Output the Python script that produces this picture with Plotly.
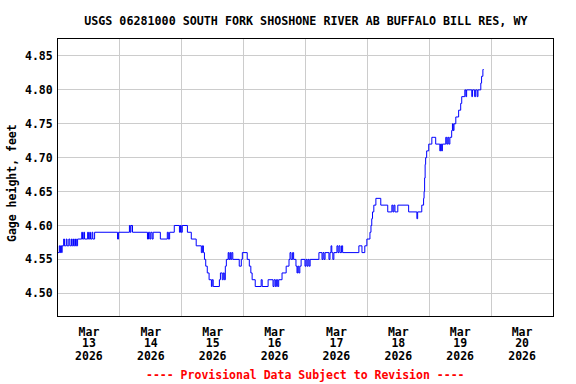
import plotly.graph_objects as go
from datetime import datetime, timedelta

# Change points: hours after 2026-03-13 00:00 and gage height (ft)
hours = [0.0, 0.5, 0.75, 1.0, 1.4, 1.6, 2.2, 2.5, 3.2, 3.5, 4.2, 4.6, 5.2, 5.5, 6.0, 6.3, 6.8, 7.1, 7.6,
         9.2, 9.5, 10.0, 10.3, 11.5, 11.8, 12.3, 12.6, 13.2, 13.5, 14.2, 23.1, 23.5, 27.7, 28.0, 28.3, 28.9,
         34.7, 35.1, 35.6, 36.0, 36.5, 36.9, 39.7, 42.4, 42.8, 43.3, 45.1, 47.1, 47.5, 47.8, 48.2, 50.2,
         51.7, 53.6, 55.6, 56.0, 56.4, 56.8, 57.3, 57.9, 58.6, 59.5, 59.8, 60.2, 62.6, 63.0, 63.7, 64.1,
         64.5, 64.9, 65.3, 66.0, 66.3, 66.7, 67.0, 67.4, 67.8, 70.3, 71.1, 71.5, 73.4, 74.2, 74.8, 75.3,
         76.5, 78.8, 79.2, 81.5, 83.4, 83.8, 84.3, 84.7, 85.2, 85.6, 86.9, 88.5, 89.6, 90.0, 90.4, 91.0,
         91.4, 92.3, 92.7, 93.0, 93.4, 93.8, 94.3, 95.8, 96.2, 96.6, 97.0, 97.4, 97.8, 101.2, 102.4, 102.8,
         103.2, 103.6, 105.1, 105.5, 105.9, 106.2, 106.6, 107.0, 108.2, 108.6, 109.0, 109.4, 110.0, 110.4,
         116.7, 117.9, 119.0, 119.8, 121.0, 121.4, 121.7, 122.0, 122.5, 123.3, 125.2, 127.9, 129.5, 129.9,
         130.3, 130.7, 131.8, 136.0, 139.2, 139.5, 141.1, 141.8, 142.0, 142.2, 142.4, 142.6, 143.0, 143.8,
         145.0, 145.8, 146.5, 148.1, 148.4, 148.8, 149.1, 150.4, 150.8, 151.2, 151.6, 152.0, 152.7, 153.0,
         153.3, 153.6, 154.3, 155.4, 156.2, 156.6, 157.8, 158.2, 158.5, 160.5, 160.8, 161.6, 162.0, 162.6,
         162.9, 164.0, 164.3, 164.8, 165.1]
gage_ft = [4.56, 4.57, 4.56, 4.57, 4.56, 4.57, 4.58, 4.57, 4.58, 4.57, 4.58, 4.57, 4.58, 4.57, 4.58, 4.57, 4.58, 4.57, 4.58,
           4.59, 4.58, 4.59, 4.58, 4.59, 4.58, 4.59, 4.58, 4.59, 4.58, 4.59, 4.58, 4.59, 4.60, 4.59, 4.60, 4.59,
           4.58, 4.59, 4.58, 4.59, 4.58, 4.59, 4.58, 4.59, 4.58, 4.59, 4.60, 4.59, 4.60, 4.59, 4.60, 4.59,
           4.58, 4.57, 4.56, 4.57, 4.56, 4.55, 4.54, 4.53, 4.52, 4.51, 4.52, 4.51, 4.52, 4.53, 4.52, 4.53,
           4.52, 4.54, 4.55, 4.56, 4.55, 4.56, 4.55, 4.56, 4.55, 4.54, 4.55, 4.56, 4.55, 4.54, 4.53, 4.52,
           4.51, 4.52, 4.51, 4.52, 4.51, 4.52, 4.51, 4.52, 4.51, 4.52, 4.53, 4.54, 4.55, 4.56, 4.55, 4.56,
           4.55, 4.54, 4.53, 4.54, 4.53, 4.54, 4.55, 4.54, 4.55, 4.54, 4.55, 4.54, 4.55, 4.56, 4.55, 4.56,
           4.55, 4.56, 4.55, 4.56, 4.57, 4.56, 4.55, 4.56, 4.57, 4.56, 4.57, 4.56, 4.57, 4.56,
           4.57, 4.56, 4.57, 4.58, 4.59, 4.60, 4.61, 4.62, 4.63, 4.64, 4.63, 4.62, 4.63, 4.62,
           4.63, 4.62, 4.63, 4.62, 4.61, 4.62, 4.63, 4.64, 4.65, 4.67, 4.69, 4.70, 4.71, 4.72,
           4.73, 4.73, 4.72, 4.71, 4.72, 4.71, 4.72, 4.73, 4.72, 4.73, 4.72, 4.73, 4.74, 4.75,
           4.74, 4.75, 4.76, 4.77, 4.78, 4.79, 4.80, 4.79, 4.80, 4.79, 4.80, 4.79, 4.80, 4.79,
           4.80, 4.81, 4.82, 4.83, 4.83]

month_labels = ["Mar"] * 8
day_numbers = ["13", "14", "15", "16", "17", "18", "19", "20"]
year_labels = ["2026"] * 8
y_ticks = [4.50, 4.55, 4.60, 4.65, 4.70, 4.75, 4.80, 4.85]

start = datetime(2026, 3, 13)
times = [start + timedelta(hours=h) for h in hours]
noons = [start + timedelta(days=i, hours=12) for i in range(len(day_numbers))]
midnights = [start + timedelta(days=i) for i in range(len(day_numbers) + 1)]
x_range = [midnights[0], midnights[-1]]

FONT = "DejaVu Sans Mono"
FS = 11.5

fig = go.Figure()
fig.add_trace(go.Scatter(x=times, y=gage_ft, mode="lines",
                         line=dict(color="#0000ff", width=1, shape="hv"),
                         showlegend=False, hoverinfo="skip"))


def bold(items):
    return ["<b>%s</b>" % s for s in items]


fig.update_layout(
    width=576, height=384,
    margin=dict(l=58, r=23, t=39, b=68),
    paper_bgcolor="white", plot_bgcolor="white",
    font=dict(family=FONT, size=FS, color="black"),
    title=dict(text="<b>USGS 06281000 SOUTH FORK SHOSHONE RIVER AB BUFFALO BILL RES, WY</b>",
               x=0.531, xanchor="center", y=0.945, yanchor="middle",
               font=dict(family=FONT, size=11.7, color="black")),
    xaxis=dict(range=x_range, tickvals=noons, ticktext=bold(month_labels),
               showgrid=False, ticks="", showline=True, linecolor="black", linewidth=1, mirror=True,
               zeroline=False, ticklabelstandoff=5,
               minor=dict(tickvals=midnights, showgrid=True, gridcolor="#cccccc", gridwidth=1, ticks="")),
    xaxis2=dict(range=x_range, overlaying="x", side="bottom", tickvals=noons, ticktext=bold(day_numbers),
                showgrid=False, ticks="", showline=False, zeroline=False, ticklabelstandoff=18),
    xaxis3=dict(range=x_range, overlaying="x", side="bottom", tickvals=noons, ticktext=bold(year_labels),
                showgrid=False, ticks="", showline=False, zeroline=False, ticklabelstandoff=31),
    yaxis=dict(range=[4.4665, 4.875], tickvals=y_ticks,
               ticktext=["<b>%.2f</b>" % v for v in y_ticks],
               showgrid=True, gridcolor="#cccccc", gridwidth=1, ticks="outside", ticklen=2,
               tickcolor="white", showline=True, linecolor="black", linewidth=1, mirror=True,
               zeroline=False),
    annotations=[
        dict(text="<b>Gage height, feet</b>", xref="paper", yref="paper", x=-0.093, y=0.48,
             textangle=-90, showarrow=False, xanchor="center", yanchor="middle",
             font=dict(family=FONT, size=FS, color="black")),
        dict(text="<b>---- Provisional Data Subject to Revision ----</b>", xref="paper", yref="paper",
             x=0.5, y=-0.213, showarrow=False, xanchor="center", yanchor="middle",
             font=dict(family=FONT, size=FS, color="#ff0000")),
    ],
)

# invisible carriers so the overlaid label axes are drawn
fig.add_trace(go.Scatter(x=x_range, y=[None, None], xaxis="x2", mode="lines",
                         showlegend=False, hoverinfo="skip"))
fig.add_trace(go.Scatter(x=x_range, y=[None, None], xaxis="x3", mode="lines",
                         showlegend=False, hoverinfo="skip"))

# remove the default 8px page margin so the figure fills the window exactly
fig.write_html("out.html", config={"displayModeBar": False, "staticPlot": True},
               post_script="document.body.style.margin='0';")
